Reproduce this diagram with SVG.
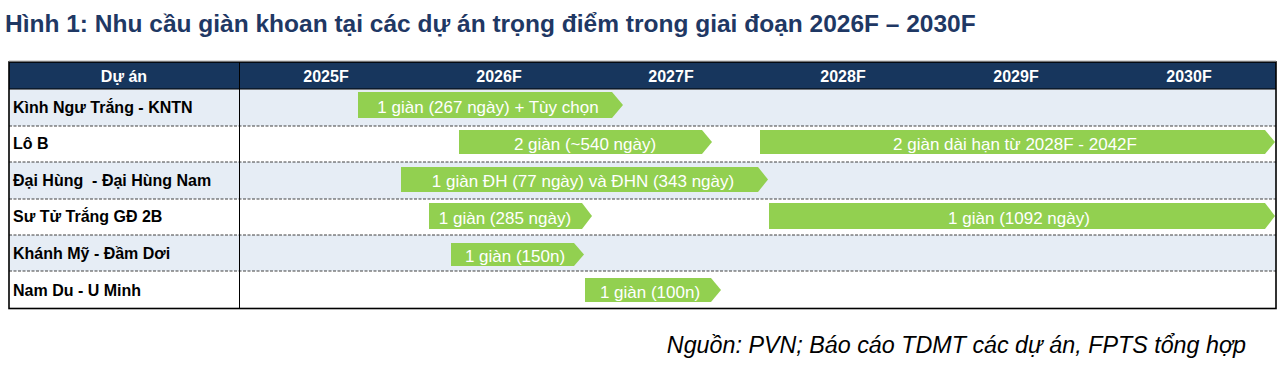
<svg xmlns="http://www.w3.org/2000/svg" width="1285" height="367" viewBox="0 0 1285 367">
<style>
.title{font-family:"Liberation Sans",Arial,sans-serif;font-weight:bold;font-size:24.5px;fill:#1f3864}
.hdr{font-family:"Liberation Sans",Arial,sans-serif;font-weight:bold;font-size:16px;fill:#ffffff;text-anchor:middle}
.lbl{font-family:"Liberation Sans",Arial,sans-serif;font-weight:bold;font-size:16px;fill:#000000;white-space:pre}
.bar{fill:#92d050}
.btxt{font-family:"Liberation Sans",Arial,sans-serif;font-size:17px;fill:#ffffff;text-anchor:middle}
.src{font-family:"Liberation Sans",Arial,sans-serif;font-style:italic;font-size:23.3px;fill:#000000;text-anchor:end}
.sep{stroke:#404040;stroke-width:1;stroke-dasharray:3 1.5;fill:none}
</style>
<rect width="1285" height="367" fill="#ffffff"/>
<text class="title" x="5" y="31.5">Hình 1: Nhu cầu giàn khoan tại các dự án trọng điểm trong giai đoạn 2026F – 2030F</text>

<g id="table">
  <rect x="9" y="62" width="1267" height="27" fill="#17365d"/>
  <rect x="9" y="89" width="1267" height="37" fill="#e6edf5"/>
  <rect x="9" y="126" width="1267" height="36" fill="#ffffff"/>
  <rect x="9" y="162" width="1267" height="37" fill="#e6edf5"/>
  <rect x="9" y="199" width="1267" height="36" fill="#ffffff"/>
  <rect x="9" y="235" width="1267" height="36" fill="#e6edf5"/>
  <rect x="9" y="271" width="1267" height="37" fill="#ffffff"/>
  <line class="sep" x1="9" y1="126" x2="1276" y2="126"/>
  <line class="sep" x1="9" y1="162" x2="1276" y2="162"/>
  <line class="sep" x1="9" y1="199" x2="1276" y2="199"/>
  <line class="sep" x1="9" y1="235" x2="1276" y2="235"/>
  <line class="sep" x1="9" y1="271" x2="1276" y2="271"/>
  <line x1="9" y1="89" x2="1276" y2="89" stroke="#000" stroke-width="1"/>
  <line x1="239.5" y1="62" x2="239.5" y2="308" stroke="#000" stroke-width="1"/>
  <rect x="9" y="62" width="1267" height="246.5" fill="none" stroke="#000" stroke-width="1.6"/>
  <line x1="9" y1="61" x2="1276" y2="61" stroke="#b0b0b0" stroke-width="1"/>
  <text class="hdr" x="124" y="82">Dự án</text>
  <text class="hdr" x="326" y="82">2025F</text>
  <text class="hdr" x="499" y="82">2026F</text>
  <text class="hdr" x="671" y="82">2027F</text>
  <text class="hdr" x="843" y="82">2028F</text>
  <text class="hdr" x="1016" y="82">2029F</text>
  <text class="hdr" x="1189" y="82">2030F</text>
</g>

<g id="row-kntn">
  <text class="lbl" x="13" y="113">Kình Ngư Trắng - KNTN</text>
  <polygon class="bar" points="358,92 612,92 623,105 612,118 358,118"/>
  <text class="btxt" x="488" y="113">1 giàn (267 ngày) + Tùy chọn</text>
</g>
<g id="row-lob">
  <text class="lbl" x="13" y="149">Lô B</text>
  <polygon class="bar" points="459,130 702,130 712,142 702,154 459,154"/>
  <text class="btxt" x="585" y="149.5">2 giàn (~540 ngày)</text>
  <polygon class="bar" points="760,130 1265,130 1275,142 1265,154 760,154"/>
  <text class="btxt" x="1015" y="149.5">2 giàn dài hạn từ 2028F - 2042F</text>
</g>
<g id="row-daihung">
  <text class="lbl" x="13" y="186">Đại Hùng  - Đại Hùng Nam</text>
  <polygon class="bar" points="401,167 758,167 768,179.5 758,192 401,192"/>
  <text class="btxt" x="583" y="187">1 giàn ĐH (77 ngày) và ĐHN (343 ngày)</text>
</g>
<g id="row-sututrang">
  <text class="lbl" x="13" y="222">Sư Tử Trắng GĐ 2B</text>
  <polygon class="bar" points="429,203 582,203 592,216 582,229 429,229"/>
  <text class="btxt" x="505" y="224">1 giàn (285 ngày)</text>
  <polygon class="bar" points="769,203 1265,203 1275,216 1265,229 769,229"/>
  <text class="btxt" x="1019" y="224">1 giàn (1092 ngày)</text>
</g>
<g id="row-khanhmy">
  <text class="lbl" x="13" y="259">Khánh Mỹ - Đầm Dơi</text>
  <polygon class="bar" points="451,243 574,243 584,254.5 574,266 451,266"/>
  <text class="btxt" x="515" y="261.5">1 giàn (150n)</text>
</g>
<g id="row-namdu">
  <text class="lbl" x="13" y="296">Nam Du - U Minh</text>
  <polygon class="bar" points="585,278 711,278 721,290 711,302 585,302"/>
  <text class="btxt" x="650" y="297.5">1 giàn (100n)</text>
</g>
<g id="connectors"></g>
<text class="src" x="1246" y="353">Nguồn: PVN; Báo cáo TDMT các dự án, FPTS tổng hợp</text>
</svg>
